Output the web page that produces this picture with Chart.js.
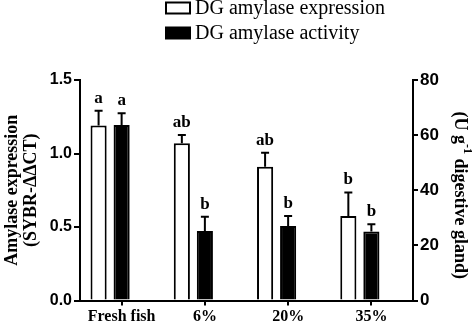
<!DOCTYPE html>
<html>
<head>
<meta charset="utf-8">
<script src="https://cdn.jsdelivr.net/npm/chart.js@4.4.1/dist/chart.umd.min.js"></script>
<style>
  html, body { margin: 0; padding: 0; background: #fff; }
  #wrap { width: 474px; height: 325px; }
</style>
</head>
<body>
<div id="wrap"><canvas id="amylaseChart" width="474" height="325"></canvas></div>
<script>
const categories = ["Fresh fish", "6%", "20%", "35%"];
const expression = [1.19, 1.07, 0.91, 0.575];
const expressionSem = [0.10, 0.056, 0.095, 0.16];
const activity = [63.7, 25.2, 27.0, 25.0];
const activitySem = [4.2, 5.2, 3.7, 2.7];
const expressionLetters = ["a", "ab", "ab", "b"];
const activityLetters = ["a", "b", "b", "b"];
const expressionTicks = [0, 0.5, 1.0, 1.5];
const activityTicks = [0, 20, 40, 60, 80];

const serif = "'Liberation Serif', 'Times New Roman', serif";
const sans = "'Liberation Sans', Arial, sans-serif";

// error bars + significance letters on top of each bar
const errorBars = {
  id: "errorBars",
  afterDatasetsDraw(chart) {
    const ctx = chart.ctx;
    const sets = [
      { idx: 0, sem: expressionSem, letters: expressionLetters },
      { idx: 1, sem: activitySem, letters: activityLetters },
    ];
    ctx.save();
    ctx.strokeStyle = "#000";
    ctx.lineWidth = 2;
    ctx.fillStyle = "#000";
    ctx.font = "bold 17px " + serif;
    ctx.textAlign = "center";
    ctx.textBaseline = "bottom";
    sets.forEach(s => {
      const meta = chart.getDatasetMeta(s.idx);
      const yScale = chart.scales[meta.yAxisID];
      const values = chart.data.datasets[s.idx].data;
      meta.data.forEach((bar, i) => {
        const top = yScale.getPixelForValue(values[i] + s.sem[i]);
        ctx.beginPath();
        ctx.moveTo(bar.x, bar.y);
        ctx.lineTo(bar.x, top);
        ctx.moveTo(bar.x - 4, top);
        ctx.lineTo(bar.x + 4, top);
        ctx.stroke();
        ctx.fillText(s.letters[i], bar.x, top - 4);
      });
    });
    ctx.restore();
  }
};

// legend and axis titles
const annotations = {
  id: "annotations",
  afterDraw(chart) {
    const ctx = chart.ctx;
    const area = chart.chartArea;
    ctx.save();
    ctx.fillStyle = "#000";

    // legend
    ctx.font = "20px " + serif;
    ctx.textAlign = "left";
    ctx.textBaseline = "middle";
    chart.data.datasets.slice(0, 2).forEach((ds, i) => {
      const y = 8 + i * 25;
      ctx.fillStyle = ds.backgroundColor;
      ctx.fillRect(166, y - 5.5, 24, 11);
      ctx.strokeStyle = "#000";
      ctx.lineWidth = 2;
      ctx.strokeRect(166, y - 5.5, 24, 11);
      ctx.fillStyle = "#000";
      ctx.fillText(ds.label, 195, y + 1);
    });

    // left title
    const midY = (area.top + area.bottom) / 2;
    ctx.font = "bold 18px " + serif;
    ctx.textAlign = "center";
    ctx.save();
    ctx.translate(12, midY);
    ctx.rotate(-Math.PI / 2);
    ctx.fillText("Amylase expression", 0, 0);
    ctx.fillText("(SYBR-\u0394\u0394CT)", 0, 19);
    ctx.restore();

    // right title with superscript
    ctx.save();
    ctx.translate(460, midY + 5);
    ctx.rotate(Math.PI / 2);
    const big = "bold 18px " + serif;
    const small = "bold 12px " + serif;
    const parts = [
      { t: "(U g", f: big, dy: 0 },
      { t: "-1", f: small, dy: -7 },
      { t: " digestive gland)", f: big, dy: 0 },
    ];
    let total = 0;
    parts.forEach(p => { ctx.font = p.f; total += ctx.measureText(p.t).width; });
    let x = -total / 2;
    ctx.textAlign = "left";
    parts.forEach(p => {
      ctx.font = p.f;
      ctx.fillText(p.t, x, p.dy);
      x += ctx.measureText(p.t).width;
    });
    ctx.restore();

    ctx.restore();
  }
};

const ctx = document.getElementById("amylaseChart").getContext("2d");
new Chart(ctx, {
  type: "bar",
  data: {
    labels: categories,
    datasets: [
      {
        label: "DG amylase expression",
        data: expression,
        yAxisID: "y",
        backgroundColor: "#fff",
        borderColor: "#000",
        borderWidth: 2,
      },
      {
        label: "DG amylase activity",
        data: activity,
        yAxisID: "y1",
        backgroundColor: "#000",
        borderColor: "#000",
        borderWidth: 2,
      },
      {
        // empty slot so the activity bar sits on the category tick
        label: "",
        data: categories.map(() => null),
        yAxisID: "y",
      },
    ],
  },
  options: {
    responsive: false,
    animation: false,
    devicePixelRatio: 1,
    categoryPercentage: 0.83,
    barPercentage: 0.7,
    layout: { padding: { top: 80, left: 0, right: 0, bottom: 0 } },
    plugins: {
      legend: { display: false },
      tooltip: { enabled: false },
    },
    scales: {
      x: {
        offset: true,
        grid: { drawOnChartArea: false, offset: false, tickLength: 5, color: "#000", lineWidth: 2 },
        border: { color: "#000", width: 2 },
        ticks: {
          color: "#000",
          padding: 2,
          maxRotation: 0,
          autoSkip: false,
          font: { family: serif, size: 16, weight: "bold" },
        },
        afterFit: s => { s.height = 24.5; },
      },
      y: {
        position: "left",
        min: 0,
        max: 1.5,
        afterBuildTicks: s => { s.ticks = expressionTicks.map(v => ({ value: v })); },
        grid: { drawOnChartArea: false, tickLength: 6, color: "#000", lineWidth: 2 },
        border: { color: "#000", width: 2 },
        ticks: {
          color: "#000",
          padding: 2,
          font: { family: sans, size: 16, weight: "bold" },
          callback: v => Number(v).toFixed(1),
        },
        afterFit: s => { s.width = 80; },
      },
      y1: {
        position: "right",
        min: 0,
        max: 80,
        afterBuildTicks: s => { s.ticks = activityTicks.map(v => ({ value: v })); },
        grid: { drawOnChartArea: false, tickLength: 5, color: "#000", lineWidth: 2 },
        border: { color: "#000", width: 2 },
        ticks: {
          color: "#000",
          padding: 2,
          font: { family: sans, size: 17, weight: "bold" },
        },
        afterFit: s => { s.width = 61; },
      },
    },
  },
  plugins: [errorBars, annotations],
});
</script>
</body>
</html>
